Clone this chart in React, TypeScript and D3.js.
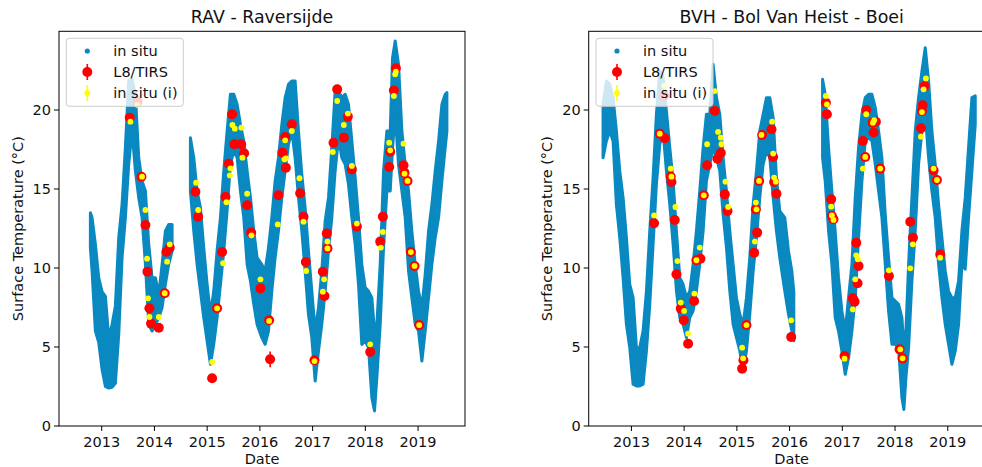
import React from 'react';
import * as d3 from 'd3';

const xTicks = [2013, 2014, 2015, 2016, 2017, 2018, 2019];
const yTicks = [0, 5, 10, 15, 20];
const legendLabels = ['in situ', 'L8/TIRS', 'in situ (i)'];

// ---- RAV - Raversijde : in situ band (decimal year, upper, lower); null = gap
const ravYear = [2012.785, 2012.817, 2012.88, 2012.943, 2013.006, 2013.07, 2013.133, 2013.196, 2013.259, 2013.323, 2013.386, 2013.449, 2013.512, 2013.576, 2013.639, 2013.702, 2013.765, 2013.829, 2013.892, 2013.955, 2014.018, 2014.082, 2014.145, 2014.208, 2014.271, 2014.335, 2014.5, 2014.682, 2014.746, 2014.809, 2014.872, 2014.935, 2014.999, 2015.062, 2015.125, 2015.188, 2015.252, 2015.315, 2015.378, 2015.441, 2015.505, 2015.568, 2015.631, 2015.694, 2015.758, 2015.821, 2015.884, 2015.947, 2016.036, 2016.099, 2016.163, 2016.226, 2016.289, 2016.352, 2016.416, 2016.479, 2016.542, 2016.605, 2016.668, 2016.732, 2016.795, 2016.858, 2016.921, 2016.985, 2017.048, 2017.111, 2017.174, 2017.238, 2017.301, 2017.364, 2017.427, 2017.491, 2017.554, 2017.617, 2017.68, 2017.744, 2017.807, 2017.87, 2017.933, 2017.997, 2018.06, 2018.123, 2018.174, 2018.218, 2018.282, 2018.345, 2018.408, 2018.472, 2018.516, 2018.566, 2018.629, 2018.693, 2018.756, 2018.819, 2018.882, 2018.946, 2019.009, 2019.072, 2019.135, 2019.199, 2019.262, 2019.325, 2019.389, 2019.452, 2019.515, 2019.547];
const ravHigh = [13.5, 13.19, 11.5, 9.39, 8.5, 8.2, 5.6, 6.4, 7.6, 11.92, 14.03, 17.62, 21.84, 21.94, 20.99, 16.98, 15.51, 14.87, 11.5, 9.39, 9.39, 8.33, 10.23, 12.34, 12.76, 12.76, null, 18.25, 16.98, 14.87, 13.82, 11.29, 8.97, 7.07, 8.54, 11.08, 13.19, 16.14, 18.67, 20.99, 20.99, 20.36, 19.09, 18.04, 16.14, 14.45, 12.34, 10.65, 10.23, 9.81, 11.29, 13.19, 15.51, 16.98, 19.09, 20.78, 21.62, 21.84, 21.84, 18.67, 15.93, 13.82, 11.08, 8.54, 6.01, 7.49, 9.81, 12.97, 14.45, 17.62, 21.2, 21.2, 20.78, 20.99, 20.36, 18.04, 15.72, 13.19, 10.23, 8.76, 8.54, 8.12, 6.01, 6.43, 10.23, 16.14, 18.67, 18.67, 23.31, 24.37, 22.89, 18.67, 16.56, 14.87, 12.34, 10.23, 8.54, 7.49, 9.6, 12.34, 14.03, 16.14, 18.04, 20.36, 20.99, 21.1];
const ravLow = [11.29, 9.81, 6.01, 5.3, 3.6, 2.5, 2.4, 2.45, 2.7, 5.8, 10.65, 13.19, 16.56, 18.67, 16.14, 14.45, 13.19, 10.23, 6.43, 6.01, 6.43, 6.86, 7.49, 8.97, 10.23, 11.08, null, 14.87, 12.34, 10.23, 8.54, 6.86, 5.38, 3.9, 5.17, 6.86, 8.97, 11.08, 13.61, 16.56, 17.41, 16.98, 14.87, 13.19, 10.23, 9.18, 7.7, 6.43, 5.59, 5.17, 6.01, 8.54, 10.65, 12.34, 14.45, 16.14, 17.83, 18.67, 16.98, 14.45, 12.34, 9.81, 7.07, 5.59, 2.85, 4.75, 6.43, 8.54, 11.08, 13.19, 16.14, 18.25, 16.98, 16.56, 15.3, 13.19, 11.5, 8.97, 5.17, 5.38, 4.96, 1.79, 0.95, 3.06, 6.43, 11.29, 14.87, 14.87, 17.62, 19.73, 16.56, 14.87, 13.19, 9.81, 8.12, 6.43, 6.01, 4.11, 6.01, 8.12, 10.23, 11.92, 13.19, 15.51, 17.62, 18.67];

// RAV L8/TIRS retrievals (year, temperature, error)
const ravSatYear = [2013.531, 2013.683, 2013.753, 2013.829, 2013.867, 2013.905, 2013.936, 2014.082, 2014.195, 2014.227, 2014.29, 2014.777, 2014.828, 2015.094, 2015.188, 2015.283, 2015.347, 2015.41, 2015.473, 2015.517, 2015.644, 2015.701, 2015.758, 2015.834, 2016.011, 2016.175, 2016.194, 2016.352, 2016.428, 2016.479, 2016.492, 2016.605, 2016.764, 2016.827, 2016.871, 2017.035, 2017.194, 2017.225, 2017.269, 2017.282, 2017.396, 2017.466, 2017.592, 2017.668, 2017.744, 2017.839, 2018.092, 2018.282, 2018.333, 2018.453, 2018.472, 2018.541, 2018.579, 2018.724, 2018.743, 2018.8, 2018.863, 2018.933, 2019.021];
const ravSatTemp = [19.51, 20.53, 15.78, 12.72, 9.77, 7.45, 6.48, 6.22, 8.4, 11.03, 11.29, 14.83, 13.25, 3.02, 7.45, 11.01, 14.51, 16.6, 19.73, 17.83, 17.83, 17.26, 13.97, 12.24, 8.71, 6.69, 4.22, 14.6, 17.3, 18.29, 16.35, 19.09, 14.73, 13.25, 10.38, 4.16, 9.77, 8.23, 12.19, 11.24, 17.93, 21.31, 18.25, 19.58, 16.24, 12.62, 4.68, 11.67, 13.25, 16.39, 17.36, 21.24, 22.64, 16.5, 16.03, 15.51, 11.01, 10.13, 6.39];
const ravSatErr = [0.2, 0.2, 0.2, 0.2, 0.2, 0.2, 0.2, 0.2, 0.2, 0.2, 0.2, 0.2, 0.2, 0.2, 0.2, 0.2, 0.2, 0.2, 0.2, 0.2, 0.2, 0.2, 0.2, 0.2, 0.2, 0.2, 0.5, 0.2, 0.2, 0.2, 0.2, 0.2, 0.2, 0.2, 0.2, 0.2, 0.2, 0.2, 0.2, 0.2, 0.2, 0.2, 0.2, 0.2, 0.2, 0.2, 0.2, 0.2, 0.2, 0.2, 0.2, 0.2, 0.2, 0.2, 0.2, 0.2, 0.2, 0.2, 0.2];

// RAV in situ (i) matchups
const ravInsYear = [2013.544, 2013.677, 2013.765, 2013.829, 2013.86, 2013.879, 2013.905, 2014.082, 2014.195, 2014.24, 2014.29, 2014.79, 2014.83, 2015.094, 2015.188, 2015.302, 2015.366, 2015.43, 2015.441, 2015.479, 2015.524, 2015.65, 2015.669, 2015.758, 2015.84, 2016.011, 2016.175, 2016.339, 2016.466, 2016.492, 2016.479, 2016.605, 2016.751, 2016.827, 2016.878, 2017.035, 2017.194, 2017.219, 2017.282, 2017.282, 2017.383, 2017.466, 2017.592, 2017.668, 2017.744, 2017.839, 2018.092, 2018.294, 2018.333, 2018.453, 2018.472, 2018.541, 2018.566, 2018.579, 2018.724, 2018.743, 2018.8, 2018.863, 2018.933, 2019.021];
const ravInsTemp = [19.26, 20.32, 15.78, 13.67, 10.59, 8.08, 6.9, 6.9, 8.4, 10.4, 11.5, 15.4, 13.67, 4.05, 7.45, 10.3, 14.16, 15.86, 16.31, 19.05, 18.82, 18.88, 16.98, 14.7, 12.07, 9.28, 6.65, 12.76, 16.88, 16.94, 18.08, 18.67, 15.68, 12.93, 9.81, 4.11, 8.5, 9.28, 11.67, 11.24, 17.34, 20.57, 19.05, 19.77, 16.46, 12.81, 5.17, 11.29, 12.28, 17.93, 17.45, 20.89, 22.26, 22.43, 17.87, 15.97, 15.51, 11.01, 10.13, 6.39];

// ---- BVH - Bol Van Heist - Boei : in situ band
const bvhYear = [2012.462, 2012.526, 2012.589, 2012.652, 2012.715, 2012.779, 2012.842, 2012.905, 2012.968, 2013.032, 2013.095, 2013.158, 2013.221, 2013.285, 2013.348, 2013.411, 2013.474, 2013.538, 2013.601, 2013.664, 2013.728, 2013.791, 2013.854, 2013.917, 2013.98, 2014.044, 2014.107, 2014.17, 2014.233, 2014.296, 2014.36, 2014.423, 2014.486, 2014.549, 2014.613, 2014.676, 2014.739, 2014.803, 2014.866, 2014.929, 2014.992, 2015.056, 2015.119, 2015.182, 2015.245, 2015.309, 2015.372, 2015.435, 2015.498, 2015.562, 2015.625, 2015.688, 2015.751, 2015.814, 2015.909, 2015.979, 2016.042, 2016.08, 2016.3, 2016.625, 2016.675, 2016.739, 2016.802, 2016.865, 2016.928, 2016.992, 2017.055, 2017.118, 2017.182, 2017.245, 2017.308, 2017.372, 2017.435, 2017.498, 2017.561, 2017.625, 2017.688, 2017.751, 2017.814, 2017.877, 2017.941, 2018.004, 2018.067, 2018.13, 2018.168, 2018.206, 2018.257, 2018.32, 2018.383, 2018.446, 2018.51, 2018.573, 2018.636, 2018.699, 2018.762, 2018.826, 2018.889, 2018.952, 2019.015, 2019.078, 2019.142, 2019.205, 2019.268, 2019.331, 2019.394, 2019.458, 2019.521];
const bvhHigh = [20.36, 21.84, 21.62, 20.78, 18.67, 16.14, 14.45, 11.92, 8.97, 8.12, 4.96, 4.96, 6.01, 8.54, 12.34, 15.72, 19.73, 22.47, 22.05, 19.94, 17.62, 15.51, 12.34, 9.39, 8.97, 8.12, 8.54, 10.23, 12.34, 14.87, 17.62, 19.73, 19.73, 22.89, 20.78, 19.73, 16.98, 14.87, 12.34, 10.23, 8.12, 7.07, 6.43, 8.12, 10.65, 14.03, 16.14, 18.67, 19.73, 20.78, 20.78, 19.52, 15.72, 13.61, 13.19, 11.08, 9.81, 8.5, null, 21.94, 20.99, 17.62, 14.87, 12.34, 9.39, 7.28, 6.01, 8.12, 10.23, 14.45, 17.62, 19.73, 20.78, 20.99, 20.99, 20.15, 18.67, 16.98, 13.4, 10.65, 8.12, 7.91, 7.7, 6.86, 4.96, 6.01, 10.23, 14.45, 18.67, 20.78, 22.47, 23.94, 21.84, 18.67, 16.56, 14.03, 11.92, 9.81, 8.54, 8.12, 8.12, 9.18, 12.34, 14.45, 17.62, 20.78, 20.89];
const bvhLow = [16.98, 18.04, 18.67, 18.04, 14.03, 11.92, 9.39, 6.43, 4.96, 2.64, 2.53, 2.53, 2.64, 4.75, 7.7, 11.5, 15.3, 17.83, 18.67, 16.14, 14.03, 11.5, 8.54, 6.86, 6.43, 5.59, 6.86, 7.28, 8.54, 10.23, 12.34, 15.51, 16.56, 17.62, 16.98, 16.14, 13.4, 11.29, 8.54, 6.43, 5.59, 4.75, 3.48, 4.75, 7.07, 9.81, 11.92, 14.45, 16.56, 17.41, 16.98, 14.45, 12.34, 10.65, 8.54, 7.07, 6.01, 5.4, null, 16.98, 15.51, 12.34, 10.23, 6.86, 6.01, 4.75, 3.27, 4.32, 6.01, 8.12, 11.92, 15.51, 18.04, 18.25, 18.04, 16.56, 14.87, 13.19, 10.23, 7.28, 5.17, 5.17, 4.96, 1.79, 1.05, 3.06, 4.96, 9.18, 12.34, 16.56, 18.67, 19.73, 16.98, 14.87, 13.19, 10.23, 8.12, 6.43, 5.17, 3.9, 4.75, 6.43, 10.23, 9.92, 13.19, 16.14, 19.09];

// BVH L8/TIRS retrievals
const bvhSatYear = [2013.43, 2013.538, 2013.62, 2013.633, 2013.746, 2013.759, 2013.822, 2013.854, 2013.936, 2013.993, 2014.075, 2014.189, 2014.233, 2014.309, 2014.373, 2014.436, 2014.581, 2014.632, 2014.695, 2014.771, 2014.822, 2015.1, 2015.125, 2015.182, 2015.328, 2015.36, 2015.385, 2015.422, 2015.479, 2015.657, 2015.688, 2015.707, 2015.751, 2016.03, 2016.688, 2016.707, 2016.789, 2016.802, 2016.833, 2017.042, 2017.2, 2017.232, 2017.264, 2017.289, 2017.308, 2017.39, 2017.435, 2017.454, 2017.574, 2017.593, 2017.637, 2017.719, 2017.884, 2018.086, 2018.143, 2018.289, 2018.339, 2018.491, 2018.51, 2018.523, 2018.56, 2018.731, 2018.794, 2018.857];
const bvhSatTemp = [12.83, 18.5, 20.89, 18.21, 15.78, 15.44, 13.04, 9.6, 7.43, 6.69, 5.21, 7.91, 10.49, 10.59, 14.6, 16.5, 19.94, 16.92, 17.28, 14.66, 13.61, 3.63, 4.16, 6.39, 10.97, 13.71, 12.24, 15.51, 18.42, 18.78, 17.03, 15.44, 14.7, 5.63, 20.46, 19.73, 14.35, 13.29, 13.08, 4.43, 8.08, 7.87, 11.6, 9.03, 10.13, 18.04, 17.03, 20.0, 19.2, 18.57, 19.26, 16.29, 9.49, 4.85, 4.28, 12.93, 11.92, 18.84, 19.94, 20.3, 21.52, 16.18, 15.57, 10.86];
const bvhSatErr = [0.2, 0.2, 0.2, 0.2, 0.2, 0.2, 0.2, 0.2, 0.2, 0.2, 0.2, 0.2, 0.2, 0.2, 0.2, 0.2, 0.2, 0.2, 0.2, 0.2, 0.2, 0.2, 0.2, 0.2, 0.2, 0.2, 0.2, 0.2, 0.2, 0.2, 0.2, 0.2, 0.2, 0.2, 0.2, 0.2, 0.2, 0.2, 0.2, 0.2, 0.2, 0.2, 0.2, 0.2, 0.2, 0.2, 0.2, 0.2, 0.2, 0.2, 0.2, 0.2, 0.2, 0.2, 0.2, 0.2, 0.2, 0.2, 0.2, 0.2, 0.2, 0.2, 0.2, 0.2];

// BVH in situ (i) matchups
const bvhInsYear = [2013.43, 2013.538, 2013.62, 2013.746, 2013.759, 2013.835, 2013.873, 2013.936, 2013.999, 2014.075, 2014.195, 2014.233, 2014.296, 2014.373, 2014.436, 2014.581, 2014.644, 2014.695, 2014.708, 2014.784, 2014.834, 2015.1, 2015.119, 2015.182, 2015.341, 2015.36, 2015.372, 2015.422, 2015.467, 2015.669, 2015.688, 2015.707, 2015.739, 2016.03, 2016.688, 2016.707, 2016.789, 2016.802, 2016.833, 2017.042, 2017.2, 2017.245, 2017.264, 2017.295, 2017.39, 2017.435, 2017.454, 2017.58, 2017.605, 2017.719, 2017.884, 2018.099, 2018.143, 2018.289, 2018.339, 2018.491, 2018.51, 2018.542, 2018.586, 2018.731, 2018.794, 2018.857];
const bvhInsTemp = [13.33, 18.5, 21.52, 16.29, 15.78, 13.86, 10.44, 7.81, 7.28, 5.84, 8.38, 10.49, 11.29, 14.6, 17.83, 21.2, 18.61, 18.25, 17.83, 15.46, 13.86, 4.96, 4.28, 6.39, 11.67, 14.14, 13.71, 15.51, 18.42, 19.26, 17.24, 15.72, 15.46, 6.69, 20.89, 20.36, 13.88, 13.33, 13.04, 4.26, 7.38, 9.28, 10.8, 10.55, 16.29, 17.03, 19.73, 19.2, 19.35, 16.29, 9.85, 4.85, 4.28, 9.98, 11.5, 18.31, 19.87, 21.31, 22.0, 16.29, 15.57, 10.65];

const BLUE = '#0a89c1';
const RED = '#ff0000';
const YELLOW = '#ffff00';
const FONT = 'DejaVu Sans, sans-serif';

const TOP = 31.3;
const BOTTOM = 426;
const PW = 406;

type PanelProps = {
  left: number;
  title: string;
  bandYear: number[];
  bandHigh: (number | null)[];
  bandLow: (number | null)[];
  satYear: number[];
  satTemp: number[];
  satErr: number[];
  insYear: number[];
  insTemp: number[];
  clipId: string;
};

function Panel(p: PanelProps) {
  const { left } = p;
  const x = d3.scaleLinear().domain([2012.19, 2019.89]).range([left, left + PW]);
  const y = d3.scaleLinear().domain([0, 24.98]).range([BOTTOM, TOP]);
  const idx = d3.range(p.bandYear.length);
  const area = d3
    .area<number>()
    .defined((i) => p.bandHigh[i] != null && p.bandLow[i] != null)
    .x((i) => x(p.bandYear[i]))
    .y0((i) => y(p.bandLow[i] as number))
    .y1((i) => y(p.bandHigh[i] as number));
  const bandPath = area(idx) || '';
  const cx = left + PW / 2;
  const lx = left + 7.3;
  const rows = [51, 72, 93];
  return (
    <g>
      <defs>
        <clipPath id={p.clipId}>
          <rect x={left} y={TOP} width={PW} height={BOTTOM - TOP} />
        </clipPath>
      </defs>
      <g clipPath={`url(#${p.clipId})`}>
        <path d={bandPath} fill={BLUE} stroke={BLUE} strokeWidth={3} strokeLinejoin="round" />
        {p.satYear.map((t, i) => (
          <g key={'s' + i}>
            <line x1={x(t)} x2={x(t)} y1={y(p.satTemp[i] - p.satErr[i])} y2={y(p.satTemp[i] + p.satErr[i])} stroke={RED} strokeWidth={1.6} />
            <circle cx={x(t)} cy={y(p.satTemp[i])} r={5} fill={RED} />
          </g>
        ))}
        {p.insYear.map((t, i) => (
          <circle key={'i' + i} cx={x(t)} cy={y(p.insTemp[i])} r={2.9} fill={YELLOW} />
        ))}
      </g>
      <rect x={left} y={TOP} width={PW} height={BOTTOM - TOP} fill="none" stroke="#000" strokeWidth={1} />
      {xTicks.map((t) => (
        <g key={'xt' + t}>
          <line x1={x(t)} x2={x(t)} y1={BOTTOM} y2={BOTTOM + 5} stroke="#000" strokeWidth={1} />
          <text x={x(t)} y={447} textAnchor="middle" fontSize={14.5} fontFamily={FONT} fill="#111">
            {t}
          </text>
        </g>
      ))}
      {yTicks.map((t) => (
        <g key={'yt' + t}>
          <line x1={left - 5} x2={left} y1={y(t)} y2={y(t)} stroke="#000" strokeWidth={1} />
          <text x={left - 8} y={y(t)} dy="0.35em" textAnchor="end" fontSize={14.5} fontFamily={FONT} fill="#111">
            {t}
          </text>
        </g>
      ))}
      <text x={cx} y={22.5} textAnchor="middle" fontSize={17.4} fontFamily={FONT} fill="#111">
        {p.title}
      </text>
      <text x={cx} y={464} textAnchor="middle" fontSize={14.5} fontFamily={FONT} fill="#111">
        Date
      </text>
      <text
        transform={`translate(${left - 41.5},${(TOP + BOTTOM) / 2}) rotate(-90)`}
        dy="0.35em"
        textAnchor="middle"
        fontSize={14.5}
        fontFamily={FONT}
        fill="#111"
      >
        Surface Temperature (°C)
      </text>
      <rect x={lx} y={38.3} width={117} height={68} rx={3} fill="#fff" fillOpacity={0.8} stroke="#cccccc" strokeWidth={1} />
      <circle cx={left + 28.3} cy={rows[0]} r={2.6} fill={BLUE} />
      <line x1={left + 28.3} x2={left + 28.3} y1={rows[1] - 8} y2={rows[1] + 8} stroke={RED} strokeWidth={1.6} />
      <circle cx={left + 28.3} cy={rows[1]} r={5} fill={RED} />
      <line x1={left + 28.3} x2={left + 28.3} y1={rows[2] - 8} y2={rows[2] + 8} stroke={YELLOW} strokeWidth={1.6} />
      <circle cx={left + 28.3} cy={rows[2]} r={2.9} fill={YELLOW} />
      {legendLabels.map((l, i) => (
        <text key={l} x={left + 54.3} y={rows[i]} dy="0.35em" fontSize={14.5} fontFamily={FONT} fill="#111">
          {l}
        </text>
      ))}
    </g>
  );
}

export default function App() {
  return (
    <svg width={982} height={467} style={{ position: 'absolute', left: 0, top: 0, background: '#fff' }}>
      <rect x={0} y={0} width={982} height={467} fill="#fff" />
      <Panel
        left={59}
        title="RAV - Raversijde"
        bandYear={ravYear}
        bandHigh={ravHigh}
        bandLow={ravLow}
        satYear={ravSatYear}
        satTemp={ravSatTemp}
        satErr={ravSatErr}
        insYear={ravInsYear}
        insTemp={ravInsTemp}
        clipId="clipRav"
      />
      <Panel
        left={588.7}
        title="BVH - Bol Van Heist - Boei"
        bandYear={bvhYear}
        bandHigh={bvhHigh}
        bandLow={bvhLow}
        satYear={bvhSatYear}
        satTemp={bvhSatTemp}
        satErr={bvhSatErr}
        insYear={bvhInsYear}
        insTemp={bvhInsTemp}
        clipId="clipBvh"
      />
    </svg>
  );
}
